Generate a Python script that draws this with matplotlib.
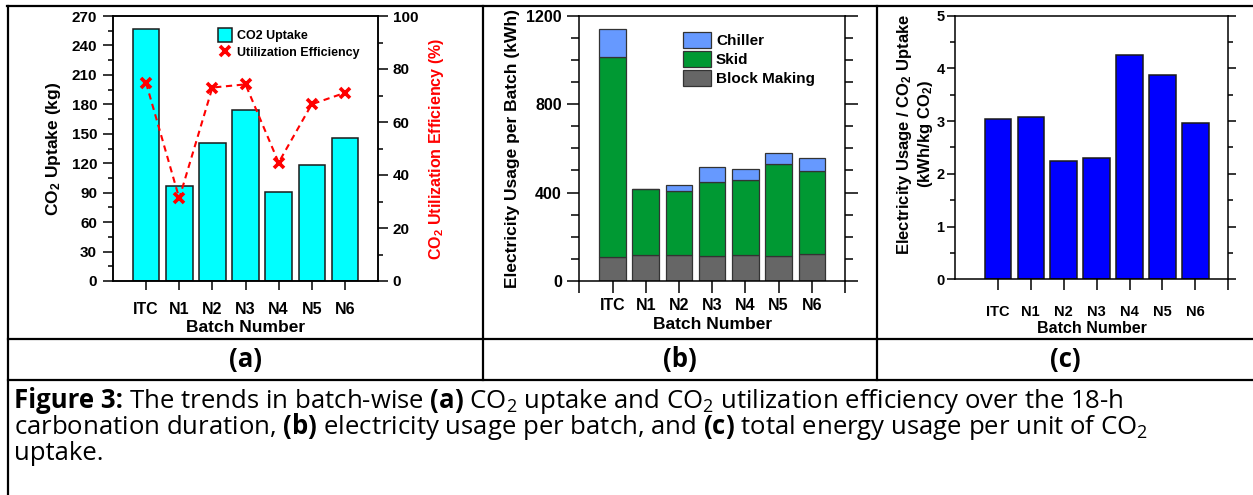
import numpy as np, matplotlib as mpl
mpl.use("Agg"); import matplotlib.pyplot as plt
from matplotlib.lines import Line2D
from matplotlib.ticker import MultipleLocator
mpl.rcParams.update({"font.family":["Liberation Sans","DejaVu Sans"],"font.weight":"bold",
    "axes.labelweight":"bold","mathtext.fontset":"custom","mathtext.default":"regular",
    "mathtext.rm":"Open Sans","mathtext.bf":"Open Sans:bold","axes.linewidth":1.1,
    "xtick.direction":"out","ytick.direction":"out"})

batches=["ITC","N1","N2","N3","N4","N5","N6"]
co2_uptake=[257,97,141,174,91,118.5,146]          # kg
util_eff=[74.7,31.2,73.0,74.2,44.7,66.7,71.0]     # %
block_making=[110,119,116,115,118,115,121]        # kWh
skid=[902,299,290,333,337,416,375]
chiller=[128,0,30,69,52,47,59]
kwh_per_kg=[3.05,3.08,2.25,2.31,4.25,3.88,2.97]

W,H=1253,495
def box(l,t,r,b): return [l/W,1-b/H,(r-l)/W,(b-t)/H]
fig=plt.figure(figsize=(W/100,H/100),dpi=100)
x=np.arange(len(batches))

# === (a) CO2 uptake + utilization efficiency ===
ax=fig.add_axes(box(113,16,378,281))
ax.bar(x,co2_uptake,0.8,color="#00FFFF",edgecolor="#1a1a1a",lw=1.1,label="CO2 Uptake")
ax.set_xlim(-1,7); ax.set_ylim(0,270)
ax.yaxis.set_major_locator(MultipleLocator(30)); ax.yaxis.set_minor_locator(MultipleLocator(15))
ax.set_xticks(x); ax.set_xticklabels(batches,fontsize=11.5)
ax.tick_params(axis="y",which="major",length=7,width=1.1,labelsize=11,pad=4.5)
ax.tick_params(axis="y",which="minor",length=3.6,width=1.1)
ax.tick_params(axis="x",length=6.5,width=1.1,pad=8.5)
ax.set_ylabel("CO$_2$ Uptake (kg)",fontsize=12.5,va="center"); ax.yaxis.set_label_coords(-0.225,0.5)
ax.set_xlabel("Batch Number",fontsize=12.5); ax.xaxis.set_label_coords(0.5,-0.147)
ax2=ax.twinx()
ax2.plot(x,util_eff,ls="--",color="red",lw=1.5,dashes=(3,2.2))
ax2.plot(x,util_eff,ls="none",marker="x",ms=7,mew=2.6,color="red",label="Utilization Efficiency")
ax2.set_ylim(0,100)
ax2.yaxis.set_major_locator(MultipleLocator(20)); ax2.yaxis.set_minor_locator(MultipleLocator(10))
ax2.tick_params(axis="y",which="major",length=7,width=1.1,labelsize=11,pad=3.6)
ax2.tick_params(axis="y",which="minor",length=3.6,width=1.1)
ax2.set_ylabel("CO$_2$ Utilization Efficiency (%)",color="red",fontsize=11.5,va="center")
ax2.yaxis.set_label_coords(1.22,0.5)
h1,l1=ax.get_legend_handles_labels(); h2,l2=ax2.get_legend_handles_labels()
ax2.legend(h1+h2,l1+l2,loc="upper left",bbox_to_anchor=(0.396,0.955),frameon=False,fontsize=9,
    borderpad=0,borderaxespad=0,handlelength=1.1,handleheight=1.35,handletextpad=0.45,
    labelspacing=0.25,numpoints=1)

# === (b) stacked electricity usage ===
bx=fig.add_axes(box(579.3,15.7,845,281))
bot2=np.add(block_making,skid)
bx.bar(x,block_making,0.8,color="#666666",edgecolor="#333333",lw=0.9,label="Block Making")
bx.bar(x,skid,0.8,bottom=block_making,color="#009933",edgecolor="#333333",lw=0.9,label="Skid")
bx.bar(x,chiller,0.8,bottom=bot2,color="#6699FF",edgecolor="#333333",lw=0.9,label="Chiller")
bx.set_xlim(-1,7); bx.set_ylim(0,1200)
bx.yaxis.set_major_locator(MultipleLocator(400)); bx.yaxis.set_minor_locator(MultipleLocator(100))
bx.set_xticks([-1,*x,7]); bx.set_xticklabels([""]+batches+[""],fontsize=11.5)
bx.tick_params(axis="y",which="major",length=9,width=1.1,labelsize=11.5,pad=3.6,right=True)
bx.tick_params(axis="y",which="minor",length=5.5,width=1.1,right=True)
bx.tick_params(axis="x",length=8.4,width=1.1,pad=3.6)
bx.set_ylabel("Electricity Usage per Batch (kWh)",fontsize=12.5,va="center"); bx.yaxis.set_label_coords(-0.253,0.5)
bx.set_xlabel("Batch Number",fontsize=12.5); bx.xaxis.set_label_coords(0.5,-0.134)
h,l=bx.get_legend_handles_labels()
bx.legend(h[::-1],l[::-1],loc="upper left",bbox_to_anchor=(0.39,0.94),frameon=False,fontsize=11,
    borderpad=0,borderaxespad=0,handlelength=1.83,handleheight=1.3,handletextpad=0.33,labelspacing=0.16)

# === (c) electricity per kg CO2 ===
cx=fig.add_axes(box(955,15.7,1228.3,279.3))
cx.bar(x,kwh_per_kg,0.8,color="#0000FF",edgecolor="#1a1a1a",lw=1.1)
cx.set_xlim(-1.3,7); cx.set_ylim(0,5)
cx.yaxis.set_major_locator(MultipleLocator(1)); cx.yaxis.set_minor_locator(MultipleLocator(0.5))
cx.set_xticks([*x,7]); cx.set_xticklabels(batches+[""],fontsize=10.5)
cx.tick_params(axis="y",which="major",length=6,width=1.1,labelsize=10.5,pad=1.5,right=True)
cx.tick_params(axis="y",which="minor",length=3.6,width=1.1,right=True)
cx.tick_params(axis="x",length=7.7,width=1.1,pad=11)
cx.set_ylabel("Electricity Usage / CO$_2$ Uptake\n(kWh/kg CO$_2$)",fontsize=12,va="center",
    multialignment="center"); cx.yaxis.set_label_coords(-0.146,0.55)
cx.set_xlabel("Batch Number",fontsize=11.5); cx.xaxis.set_label_coords(0.5,-0.16)

# === table borders ===
def seg(x0,y0,x1,y1): fig.add_artist(Line2D([x0/W,x1/W],[1-y0/H,1-y1/H],color="k",lw=1.6))
seg(7,5.5,W,5.5); seg(7.5,5.5,7.5,H); seg(483,5.5,483,380); seg(877,5.5,877,380)
seg(7.5,339,W,339); seg(7.5,380,W,380)

for lab,xc in zip(["(a)","(b)","(c)"],[245.5,680,1065]):
    fig.text(xc/W,1-360/H,lab,ha="center",va="center",fontsize=18.5,fontweight="bold",family="Open Sans")

# === caption (font size fitted so line 2 spans most of the cell) ===
cap=dict(family=["Open Sans","DejaVu Sans"],va="baseline",fontweight="normal")
r=fig.canvas.get_renderer()
t2=fig.text(14/W,1-434/H,r"carbonation duration, $\mathbf{(b)}$ electricity usage per batch, and $\mathbf{(c)}$ total energy usage per unit of CO$_2$",fontsize=16,**cap)
fs=16*1135/t2.get_window_extent(r).width
t2.set_fontsize(fs)
t=fig.text(14/W,1-408/H,"Figure 3:",fontsize=fs,**{**cap,"fontweight":"bold"})
w=t.get_window_extent(r).width
fig.text((14+w)/W,1-408/H,r" The trends in batch-wise $\mathbf{(a)}$ CO$_2$ uptake and CO$_2$ utilization efficiency over the 18-h",fontsize=fs,**cap)
fig.text(14/W,1-460/H,"uptake.",fontsize=fs,**cap)

fig.savefig("out.png",dpi=100)
